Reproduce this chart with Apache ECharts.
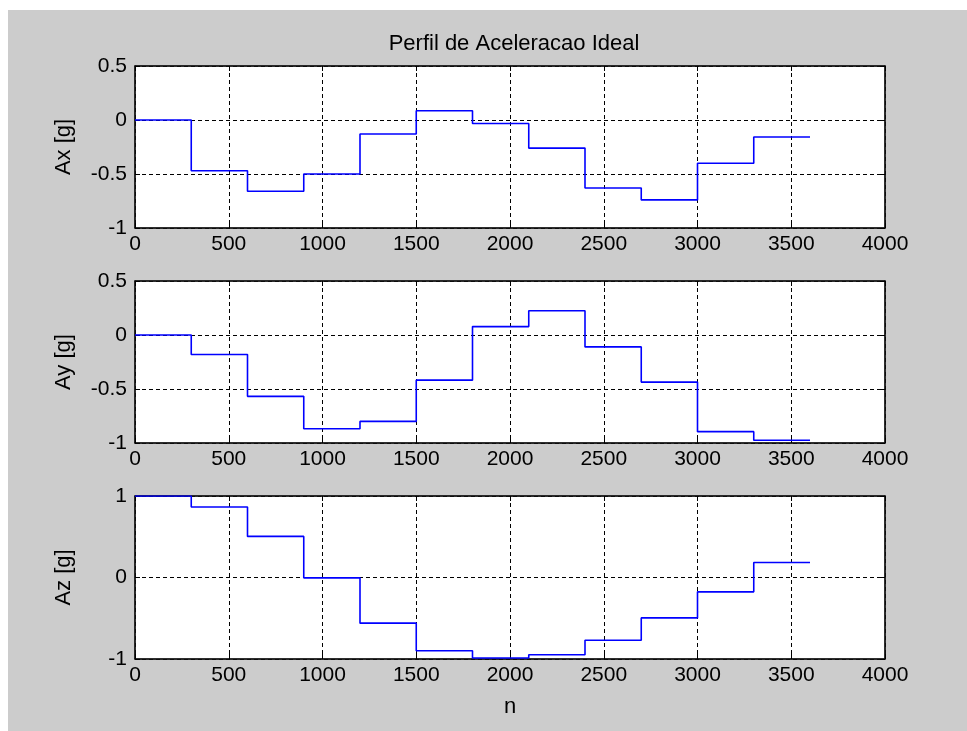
<!DOCTYPE html>
<html><head><meta charset="utf-8">
<script src="https://cdn.jsdelivr.net/npm/echarts@6/dist/echarts.min.js"></script>
<style>
html,body{margin:0;padding:0;background:#fff;}
#bg{position:absolute;left:8px;top:10px;width:959px;height:721px;background:#cccccc;}
#c{position:absolute;left:0;top:0;width:967px;height:731px;}
</style></head>
<body><div id="bg"></div><div id="c"></div>
<script>
const breakpoints = [0, 300, 600, 900, 1200, 1500, 1800, 2100, 2400, 2700, 3000, 3300, 3600];
const ax = [0, -0.47, -0.66, -0.50, -0.13, 0.085, -0.033, -0.26, -0.63, -0.74, -0.40, -0.157];
const ay = [0, -0.18, -0.568, -0.868, -0.80, -0.418, 0.078, 0.225, -0.11, -0.436, -0.895, -0.975];
const az = [1.0, 0.865, 0.504, -0.004, -0.56, -0.898, -0.988, -0.947, -0.77, -0.496, -0.176, 0.184];
const xTicks = [0, 500, 1000, 1500, 2000, 2500, 3000, 3500, 4000];
const yLabels = ['Ax [g]', 'Ay [g]', 'Az [g]'];
const titleText = 'Perfil de Aceleracao Ideal';
const xName = 'n';

function stepData(vals){
  const d = [];
  for (let i = 0; i < vals.length; i++) d.push([breakpoints[i], vals[i]]);
  d.push([breakpoints[breakpoints.length-1], vals[vals.length-1]]);
  return d;
}

const FONT = "'Liberation Sans', Arial, sans-serif";
const FS = 21;
const FN = 22;
const grids = [
  {left:135, right:82, top:66, height:162},
  {left:135, right:82, top:281, height:162},
  {left:135, right:82, top:496, height:163}
];
const yRanges = [[-1,0.5,0.5],[-1,0.5,0.5],[-1,1,1]];
const series = [ax, ay, az];
const boxLine = {color:'#111', width:1.5};
const gridLine = {color:'#000', type:[4,3], width:1};

const xAxis = [], yAxis = [], ser = [];
grids.forEach((g, i) => {
  g.show = true; g.backgroundColor = '#ffffff'; g.borderColor = '#111'; g.borderWidth = 1;
  xAxis.push({
    gridIndex:i, type:'value', min:xTicks[0], max:xTicks[xTicks.length-1], interval:500,
    position:'bottom',
    axisLine:{show:true, onZero:false, lineStyle:boxLine},
    axisTick:{show:true, inside:true, length:5, lineStyle:{color:'#000'}},
    axisLabel:{color:'#000', fontSize:FS, fontFamily:FONT, margin:6, formatter:v => String(v)},
    splitLine:{show:true, lineStyle:gridLine},
    name: i === 2 ? xName : '', nameLocation:'middle', nameGap:37,
    nameTextStyle:{color:'#000', fontSize:FN, fontFamily:FONT}
  });
  xAxis.push({
    gridIndex:i, type:'value', min:xTicks[0], max:xTicks[xTicks.length-1], interval:500,
    position:'top',
    axisLine:{show:true, onZero:false, lineStyle:boxLine},
    axisTick:{show:true, inside:true, length:5, lineStyle:{color:'#000'}},
    axisLabel:{show:false}, splitLine:{show:false}
  });
  const r = yRanges[i];
  yAxis.push({
    gridIndex:i, type:'value', min:r[0], max:r[1], interval:r[2], position:'left',
    axisLine:{show:true, onZero:false, lineStyle:boxLine},
    axisTick:{show:true, inside:true, length:5, lineStyle:{color:'#000'}},
    axisLabel:{color:'#000', fontSize:FS, fontFamily:FONT, margin:8, formatter:v => String(v)},
    splitLine:{show:true, lineStyle:gridLine},
    name:yLabels[i], nameLocation:'middle', nameGap:60, nameRotate:90,
    nameTextStyle:{color:'#000', fontSize:FN, fontFamily:FONT}
  });
  yAxis.push({
    gridIndex:i, type:'value', min:r[0], max:r[1], interval:r[2], position:'right',
    axisLine:{show:true, onZero:false, lineStyle:boxLine},
    axisTick:{show:true, inside:true, length:5, lineStyle:{color:'#000'}},
    axisLabel:{show:false}, splitLine:{show:false}
  });
  ser.push({
    type:'line', xAxisIndex:2*i, yAxisIndex:2*i, step:'end', showSymbol:false, symbol:'none',
    data:stepData(series[i]), lineStyle:{color:'#0000ff', width:1.6}, animation:false, z:5
  });
});

const chart = echarts.init(document.getElementById('c'), null, {renderer:'canvas'});
chart.setOption({
  backgroundColor:'transparent',
  animation:false,
  title:{text:titleText, left:509, top:28, textAlign:'center',
    textStyle:{color:'#000', fontSize:FN, fontWeight:'normal', fontFamily:FONT}},
  grid:grids, xAxis:xAxis, yAxis:yAxis, series:ser
});
</script></body></html>
